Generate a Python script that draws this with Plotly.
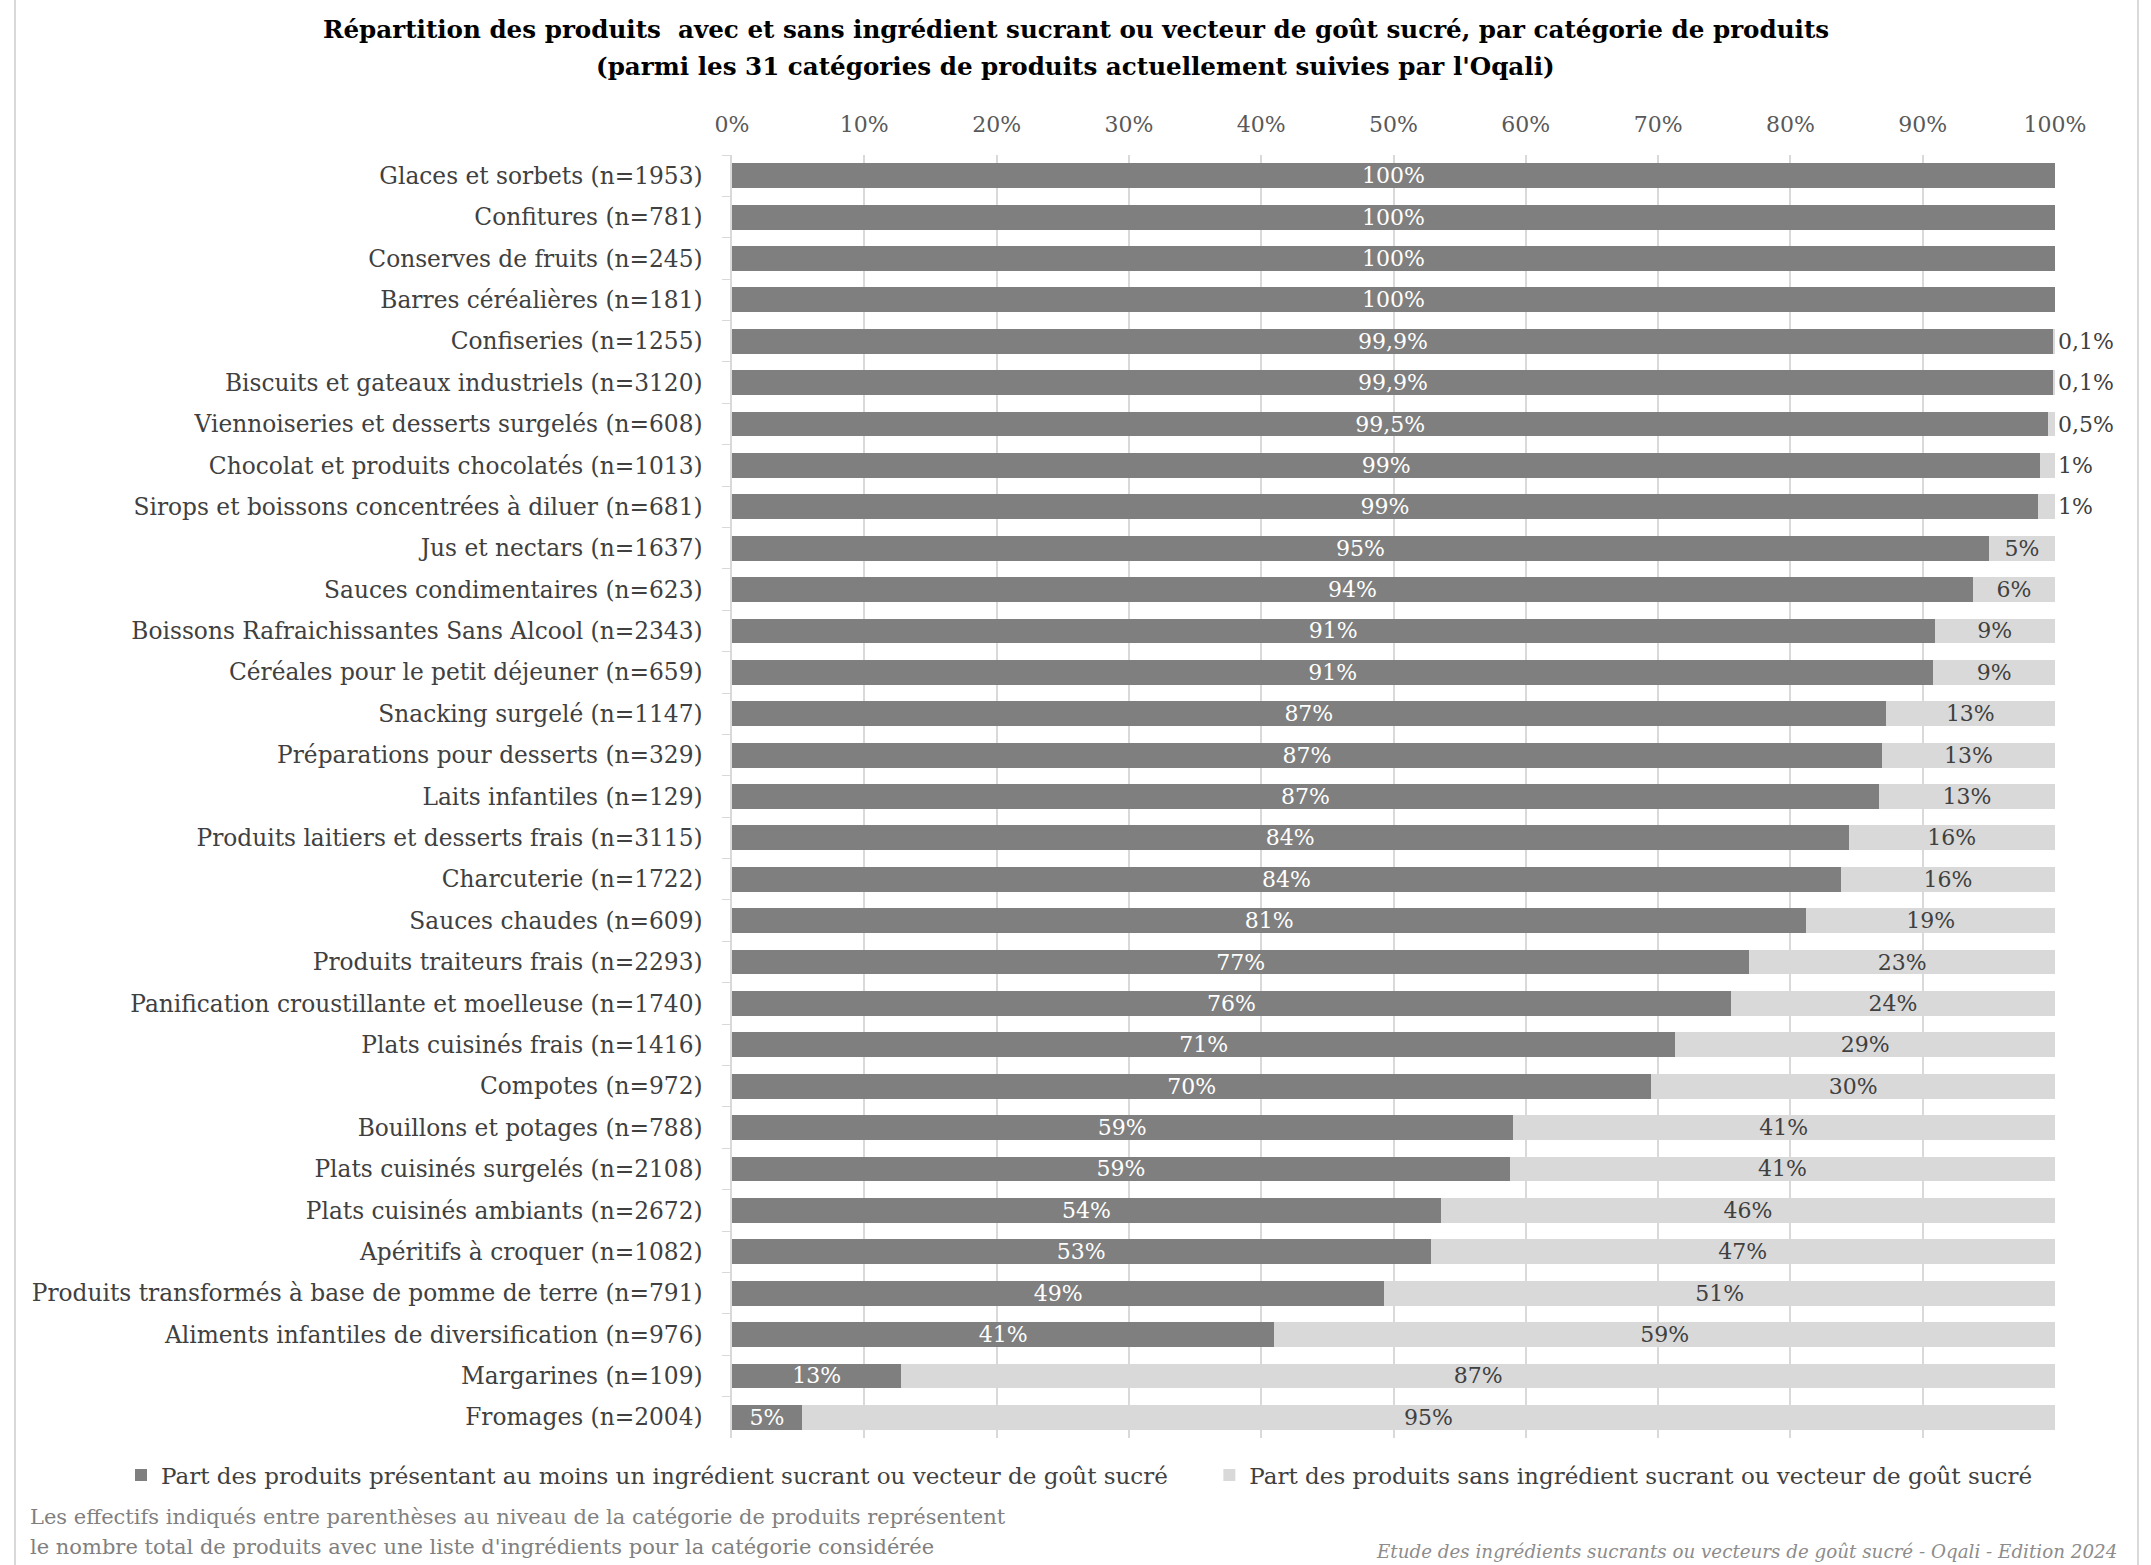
import plotly.graph_objects as go

categories = [
    "Glaces et sorbets (n=1953)",
    "Confitures (n=781)",
    "Conserves de fruits (n=245)",
    "Barres céréalières (n=181)",
    "Confiseries (n=1255)",
    "Biscuits et gateaux industriels (n=3120)",
    "Viennoiseries et desserts surgelés (n=608)",
    "Chocolat et produits chocolatés (n=1013)",
    "Sirops et boissons concentrées à diluer (n=681)",
    "Jus et nectars (n=1637)",
    "Sauces condimentaires (n=623)",
    "Boissons Rafraichissantes Sans Alcool (n=2343)",
    "Céréales pour le petit déjeuner (n=659)",
    "Snacking surgelé (n=1147)",
    "Préparations pour desserts (n=329)",
    "Laits infantiles (n=129)",
    "Produits laitiers et desserts frais (n=3115)",
    "Charcuterie (n=1722)",
    "Sauces chaudes (n=609)",
    "Produits traiteurs frais (n=2293)",
    "Panification croustillante et moelleuse (n=1740)",
    "Plats cuisinés frais (n=1416)",
    "Compotes (n=972)",
    "Bouillons et potages (n=788)",
    "Plats cuisinés surgelés (n=2108)",
    "Plats cuisinés ambiants (n=2672)",
    "Apéritifs à croquer (n=1082)",
    "Produits transformés à base de pomme de terre (n=791)",
    "Aliments infantiles de diversification (n=976)",
    "Margarines (n=109)",
    "Fromages (n=2004)",
]

# share of products with at least one sweetening ingredient (%)
sweet_values = [100, 100, 100, 100, 99.9, 99.9, 99.5, 98.9, 98.7, 95.0, 93.8, 90.9, 90.8,
                87.2, 86.9, 86.7, 84.4, 83.8, 81.2, 76.9, 75.5, 71.3, 69.5, 59.0, 58.8,
                53.6, 52.8, 49.3, 41.0, 12.8, 5.3]
# share of products without (%)
nosweet_values = [0, 0, 0, 0, 0.1, 0.1, 0.5, 1.1, 1.3, 5.0, 6.2, 9.1, 9.2,
                  12.8, 13.1, 13.3, 15.6, 16.2, 18.8, 23.1, 24.5, 28.7, 30.5, 41.0, 41.2,
                  46.4, 47.2, 50.7, 59.0, 87.2, 94.7]

sweet_labels = ["100%", "100%", "100%", "100%", "99,9%", "99,9%", "99,5%", "99%", "99%",
                "95%", "94%", "91%", "91%", "87%", "87%", "87%", "84%", "84%", "81%",
                "77%", "76%", "71%", "70%", "59%", "59%", "54%", "53%", "49%", "41%",
                "13%", "5%"]
nosweet_labels = ["", "", "", "", "0,1%", "0,1%", "0,5%", "1%", "1%",
                  "5%", "6%", "9%", "9%", "13%", "13%", "13%", "16%", "16%", "19%",
                  "23%", "24%", "29%", "30%", "41%", "41%", "46%", "47%", "51%", "59%",
                  "87%", "95%"]

xtick_vals = [0, 10, 20, 30, 40, 50, 60, 70, 80, 90, 100]
xtick_text = ["0%", "10%", "20%", "30%", "40%", "50%", "60%", "70%", "80%", "90%", "100%"]

legend_names = [
    "Part des produits présentant au moins un ingrédient sucrant ou vecteur de goût sucré",
    "Part des produits sans ingrédient sucrant ou vecteur de goût sucré",
]
title_lines = [
    "Répartition des produits  avec et sans ingrédient sucrant ou vecteur de goût sucré, par catégorie de produits",
    "(parmi les 31 catégories de produits actuellement suivies par l'Oqali)",
]
note_lines = [
    "Les effectifs indiqués entre parenthèses au niveau de la catégorie de produits représentent",
    "le nombre total de produits avec une liste d'ingrédients pour la catégorie considérée",
]
source_text = "Etude des ingrédients sucrants ou vecteurs de goût sucré - Oqali - Edition 2024"

FONT = "DejaVu Serif, serif"
W, H = 2151, 1565
ML, MR, MT, MB = 732, 96, 155, 127
PW = W - ML - MR
PH = H - MT - MB


def px2x(px):
    return (px - ML) / PW


def px2y(py):
    return (H - MB - py) / PH


small_threshold = 2
nosweet_pos = ["outside" if 0 < v < small_threshold else "inside" for v in nosweet_values]

fig = go.Figure()
fig.add_trace(go.Bar(
    y=categories, x=sweet_values, orientation="h",
    name=legend_names[0] + "\u00a0" * 5,
    marker=dict(color="#7f7f7f", line=dict(width=0)),
    text=sweet_labels, textposition="inside", insidetextanchor="middle",
    textfont=dict(family=FONT, size=22, color="#ffffff"),
    constraintext="none", hoverinfo="skip",
))
fig.add_trace(go.Bar(
    y=categories, x=nosweet_values, orientation="h", name=legend_names[1],
    marker=dict(color="#d9d9d9", line=dict(width=0)),
    text=nosweet_labels, textposition=nosweet_pos, insidetextanchor="middle",
    textfont=dict(family=FONT, size=22, color="#404040"),
    outsidetextfont=dict(family=FONT, size=22, color="#404040"),
    constraintext="none", cliponaxis=False, hoverinfo="skip",
))

annotations = []
for txt, py in zip(title_lines, [30, 66]):
    annotations.append(dict(
        text="<b>" + txt + "</b>", x=px2x(W / 2), y=px2y(py), xref="paper", yref="paper",
        xanchor="center", yanchor="middle", showarrow=False,
        font=dict(family=FONT, size=24.6, color="#000000"),
    ))
for txt, py in zip(note_lines, [1517, 1547]):
    annotations.append(dict(
        text=txt, x=px2x(28), y=px2y(py), xref="paper", yref="paper",
        xanchor="left", yanchor="middle", showarrow=False,
        font=dict(family=FONT, size=21, color="#7f7f7f"),
    ))
annotations.append(dict(
    text="<i>" + source_text + "</i>", x=px2x(2119), y=px2y(1551), xref="paper", yref="paper",
    xanchor="right", yanchor="middle", showarrow=False,
    font=dict(family=FONT, size=18.3, color="#8c8c8c"),
))

shapes = [
    dict(type="line", xref="paper", yref="paper", x0=px2x(15), x1=px2x(15), y0=px2y(0), y1=px2y(H),
         line=dict(color="#d9d9d9", width=2)),
    dict(type="line", xref="paper", yref="paper", x0=px2x(2138), x1=px2x(2138), y0=px2y(0), y1=px2y(H),
         line=dict(color="#d9d9d9", width=2)),
]

fig.update_layout(
    width=W, height=H, barmode="stack", bargap=0.4,
    margin=dict(l=ML, r=MR, t=MT, b=MB, autoexpand=False),
    paper_bgcolor="white", plot_bgcolor="white",
    font=dict(family=FONT, size=23, color="#404040"),
    uniformtext=dict(minsize=22, mode="show"),
    xaxis=dict(
        side="top", range=[0, 100], tickvals=xtick_vals, ticktext=xtick_text,
        showgrid=True, gridcolor="#d9d9d9", gridwidth=1.5, zeroline=False,
        showline=False, ticks="", tickfont=dict(family=FONT, size=22, color="#595959"),
        ticklabelstandoff=18, fixedrange=True,
    ),
    yaxis=dict(
        autorange="reversed", showline=True, linecolor="#d9d9d9", linewidth=1.5,
        ticks="outside", tickson="boundaries", ticklen=8, tickcolor="#d9d9d9",
        tickfont=dict(family=FONT, size=23.3, color="#404040"), ticklabelstandoff=23,
        showgrid=False,
    ),
    legend=dict(
        orientation="h", xanchor="left", yanchor="middle", x=px2x(121), y=px2y(1475),
        font=dict(family=FONT, size=23, color="#404040"), itemwidth=30,
        bgcolor="rgba(0,0,0,0)", traceorder="normal",
    ),
    annotations=annotations, shapes=shapes,
)

fig.write_html("out.html", config={"displayModeBar": False},
               post_script="document.body.style.margin='0px';")
